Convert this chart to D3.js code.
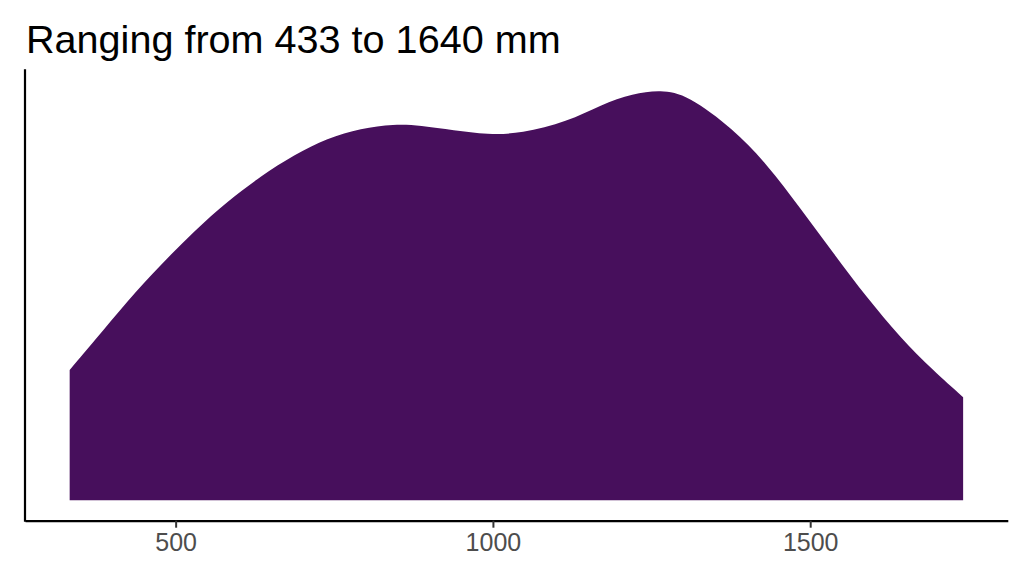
<!DOCTYPE html>
<html>
<head>
<meta charset="utf-8">
<script src="https://cdn.jsdelivr.net/npm/d3@7"></script>
<style>
  body { margin: 0; background: #fff; }
  svg { display: block; font-family: "Liberation Sans", Arial, sans-serif; }
</style>
</head>
<body>
<div id="chart"><svg></svg></div>
<script>
const title = "Ranging from 433 to 1640 mm"

// density estimate (rainfall in mm, density)
const rainfall = [333, 372, 424, 477, 529, 582, 634, 687, 739, 792, 844, 886, 938, 992,
  1044, 1118, 1170, 1221, 1264, 1307, 1379, 1432, 1484, 1537, 1589, 1642, 1694, 1741]
const density = [0.000315, 0.000385, 0.000482, 0.00057, 0.00065, 0.000723, 0.000783,
  0.000835, 0.000875, 0.000899, 0.000909, 0.000906, 0.000894, 0.000884, 0.000886,
  0.000915, 0.000956, 0.000983, 0.000992, 0.00098, 0.000897, 0.000812, 0.000707,
  0.000596, 0.00049, 0.000393, 0.000313, 0.000249]
const xTicks = [500, 1000, 1500]

const width = 1024
const height = 576
const panelLeft = 25
const panelRight = 1007.8
const panelTop = 69.3
const panelBottom = 520.7

const data = rainfall.map((r, i) => ({ r: r, d: density[i] }))

const svg = d3.select("#chart svg").attr("width", width).attr("height", height)

// ggplot style 5% expansion on both axes
const xMin = d3.min(rainfall), xMax = d3.max(rainfall)
const xPad = (xMax - xMin) * 0.05
const x = d3.scaleLinear().domain([xMin - xPad, xMax + xPad]).range([panelLeft, panelRight])

const yMax = d3.max(density)
const y = d3.scaleLinear().domain([-yMax * 0.05, yMax * 1.05]).range([panelBottom, panelTop])

const area = d3.area()
  .x((d) => x(d.r))
  .y0(y(0))
  .y1((d) => y(d.d))
  .curve(d3.curveBasis)

svg.append("path")
  .datum(data)
  .attr("d", area)
  .attr("fill", "#470f5c")

// x axis
const xAxis = svg.append("g")
  .attr("transform", `translate(0, ${panelBottom})`)
  .call(d3.axisBottom(x).tickValues(xTicks).tickFormat(d3.format("d"))
    .tickSize(7).tickSizeOuter(0).tickPadding(6))
xAxis.select(".domain").attr("stroke", "#000").attr("stroke-width", 2.2)
xAxis.selectAll(".tick line").attr("stroke", "#333").attr("stroke-width", 2)
xAxis.selectAll(".tick text")
  .attr("fill", "#4d4d4d")
  .attr("font-size", 25)
  .attr("font-family", "Liberation Sans, Arial, sans-serif")

// y axis line only
svg.append("line")
  .attr("x1", panelLeft).attr("x2", panelLeft)
  .attr("y1", panelTop).attr("y2", panelBottom + 1)
  .attr("stroke", "#000")
  .attr("stroke-width", 2.2)

svg.append("text")
  .attr("x", 26)
  .attr("y", 53)
  .attr("font-size", 39.6)
  .attr("fill", "#000")
  .text(title)
</script>
</body>
</html>
